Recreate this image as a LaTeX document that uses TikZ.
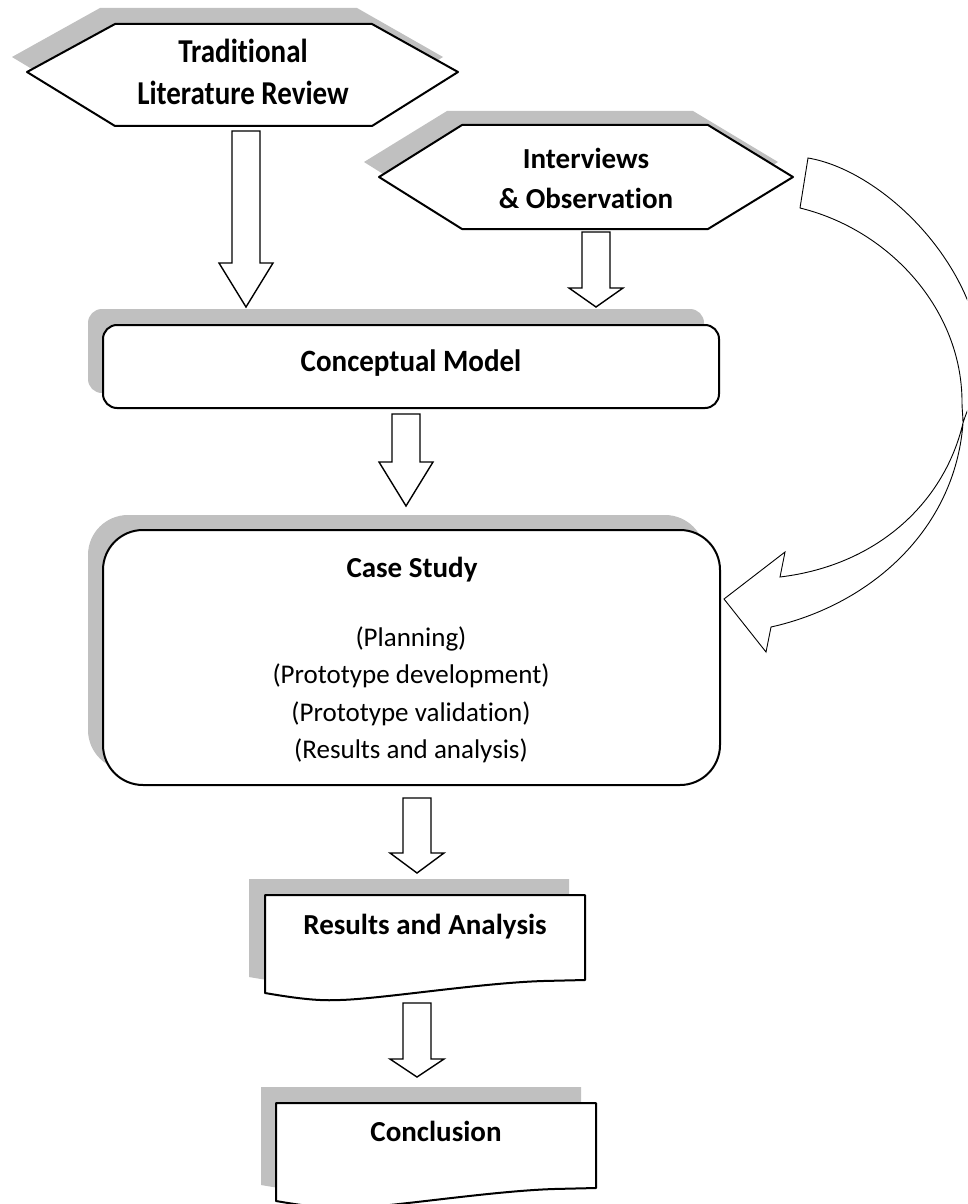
\documentclass[tikz,border=0pt]{standalone}
\usepackage{fontspec}
\setmainfont{Carlito}[Ligatures=NoCommon]
\usetikzlibrary{calc}
\definecolor{shade}{RGB}{192,192,192}
\tikzset{
  shadowfill/.style={fill=shade, draw=none},
  boxshape/.style={fill=white, draw=black, line width=2pt, line join=round},
  blockarr/.style={fill=white, draw=black, line width=1.4pt, line join=miter},
  curvearr/.style={fill=white, draw=black, line width=0.9pt, line join=miter},
  ttl/.style={font=\fontsize{29}{35}\selectfont\bfseries, inner sep=0pt, anchor=base},
  body/.style={font=\fontsize{27}{33}\selectfont, inner sep=0pt, anchor=base},
  docpic/.pic={\path[pic actions] (0,0) -- (320,0) -- (320,85) -- (278,86)
      .. controls (215,88) and (115,104) .. (75,105)
      .. controls (55,106) and (35,104) .. (0,98) -- cycle;}
}
\newcommand\blkarrow[5]{% start, tip, half shaft, half head, head length
  \draw[blockarr] ($(#1)+(-#3,0)$) -- ($(#2)+(-#3,-#5)$) -- ($(#2)+(-#4,-#5)$)
    -- (#2) -- ($(#2)+(#4,-#5)$) -- ($(#2)+(#3,-#5)$) -- ($(#1)+(#3,0)$) -- cycle;}
\begin{document}
\begin{tikzpicture}[x=1pt,y=-1pt]
\useasboundingbox (0,0) rectangle (967,1204);
\fill[white] (0,0) rectangle (967,1204);

% Traditional Literature Review hexagon
\fill[shadowfill] (12,57) -- (100,8) -- (357,8) -- (443,57) -- (357,110) -- (100,110) -- cycle;
\draw[boxshape] (27,72) -- (115,24) -- (372,24) -- (458,72) -- (372,126) -- (115,126) -- cycle;
\node[ttl] (tlr1) at (243,63) {\scalebox{1}[1.15]{Traditional}};
\node[ttl] (tlr2) at (243,105) {\scalebox{1}[1.15]{Literature Review}};

% Interviews & Observation hexagon
\fill[shadowfill] (364,162) -- (447,111) -- (693,111) -- (778,162) -- (693,214) -- (447,214) -- cycle;
\draw[boxshape] (379,177) -- (462,125) -- (708,125) -- (793,177) -- (708,229) -- (462,229) -- cycle;
\node[ttl] (io1) at (586,168) {Interviews};
\node[ttl] (io2) at (586,208) {\& Observation};

% Conceptual Model
\fill[shadowfill, rounded corners=14pt] (88,309) rectangle (704,393);
\draw[boxshape, rounded corners=14pt] (103,325) rectangle (719,408);
\node[ttl] (cm) at (411,371) {\scalebox{1}[1.07]{Conceptual Model}};

% Case Study
\fill[shadowfill, rounded corners=40pt] (88,515) rectangle (705,770);
\draw[boxshape, rounded corners=40pt] (103,530) rectangle (720,785);
\node[ttl] (cs) at (412,577) {Case Study};
\node[body] (cs1) at (411,646) {(Planning)};
\node[body] (cs2) at (411,683.5) {(Prototype development)};
\node[body] (cs3) at (411,721) {(Prototype validation)};
\node[body] (cs4) at (411,758.5) {(Results and analysis)};

% Results and Analysis
\pic[shadowfill] at (249,879) {docpic};
\pic[boxshape] at (265,895) {docpic};
\node[ttl] (ra) at (425,934) {Results and Analysis};

% Conclusion
\pic[shadowfill] at (261,1087) {docpic};
\pic[boxshape] at (276,1103) {docpic};
\node[ttl] (con) at (436,1141) {Conclusion};

% block arrows
\coordinate (a1s) at (246,131);  \coordinate (a1e) at (246,307);
\coordinate (a2s) at (596,232);  \coordinate (a2e) at (596,307);
\coordinate (a3s) at (406,414);  \coordinate (a3e) at (406,506);
\coordinate (a4s) at (417,798);  \coordinate (a4e) at (417,873);
\coordinate (a5s) at (417,1003); \coordinate (a5e) at (417,1077);
\blkarrow{a1s}{a1e}{14}{27}{44}
\blkarrow{a2s}{a2e}{14}{27}{19}
\blkarrow{a3s}{a3e}{14}{27}{44}
\blkarrow{a4s}{a4e}{14}{27}{20}
\blkarrow{a5s}{a5e}{14}{27}{18}

% curved arrow from Interviews to Case Study
\coordinate (ctip) at (724,599);
\begin{scope}
\clip (0,0) rectangle (967,1204);
\draw[curvearr] (ctip) -- (785,552) -- (780,577)
  .. controls (880,565) and (945,500) .. (963,423)
  .. controls (970,400) and (982,385) .. (982,360)
  .. controls (975,260) and (880,170) .. (808,158)
  -- (800,208)
  .. controls (890,230) and (962,310) .. (962,402)
  .. controls (962,410) and (963,416) .. (963,423)
  .. controls (955,530) and (870,605) .. (771,627)
  -- (766,652) -- cycle;
\end{scope}
\end{tikzpicture}
\end{document}
